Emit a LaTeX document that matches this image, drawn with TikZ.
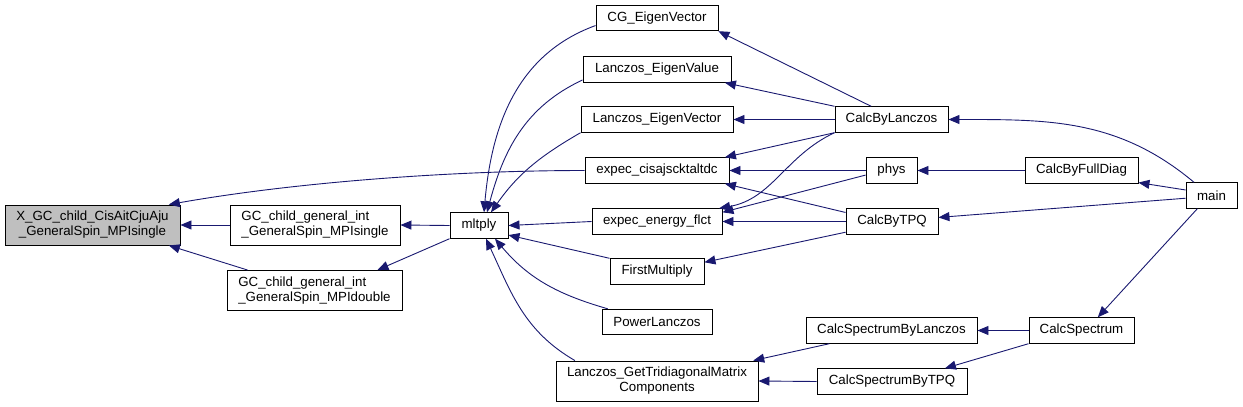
\documentclass[tikz,border=0pt]{standalone}
\usepackage{fontspec}
\setmainfont{Liberation Sans}
\usepackage{tikz}
\usetikzlibrary{arrows.meta}
\definecolor{edgeblue}{HTML}{191970}
\definecolor{rootgray}{HTML}{BFBFBF}
\tikzset{
  >={Triangle[length=11pt,width=9pt]},
  fnbox/.style={draw=black,line width=0.9pt,inner sep=0pt,minimum height=25.5pt,
    font=\fontsize{13.3}{15}\selectfont,align=center},
  fntwo/.style={fnbox,minimum height=40pt},
  fnroot/.style={fntwo,fill=rootgray},
  call/.style={->,draw=edgeblue,line width=0.9pt},
}
\begin{document}
\begin{tikzpicture}[x=1pt,y=1pt]
  \useasboundingbox (0,0) rectangle (1243,-407);
  \node[fnroot,minimum width=175pt] (xgc) at (92.5,-225)
    {X\_GC\_child\_CisAitCjuAju\\\_GeneralSpin\_MPIsingle};
  \node[fntwo,align=left,minimum width=170pt] (gcs) at (315,-225)
    {GC\_child\_general\_int\\\_GeneralSpin\_MPIsingle};
  \node[fntwo,align=left,minimum width=175pt] (gcd) at (314.5,-290.5)
    {GC\_child\_general\_int\\\_GeneralSpin\_MPIdouble};
  \node[fnbox,minimum width=58pt] (mlt) at (479,-225.5) {mltply};
  \node[fnbox,minimum width=122pt] (cgev) at (657,-18) {CG\_EigenVector};
  \node[fnbox,minimum width=148pt] (levl) at (657,-69.5) {Lanczos\_EigenValue};
  \node[fnbox,minimum width=152pt] (levc) at (657,-119.5) {Lanczos\_EigenVector};
  \node[fnbox,minimum width=144pt] (cisaj) at (657,-170.5) {expec\_cisajscktaltdc};
  \node[fnbox,minimum width=130pt] (enfl) at (657,-221.5) {expec\_energy\_flct};
  \node[fnbox,minimum width=94pt] (fmul) at (657,-271.5) {FirstMultiply};
  \node[fnbox,minimum width=110pt] (pwl) at (657,-322) {PowerLanczos};
  \node[fntwo,minimum width=202pt] (trid) at (657,-381)
    {Lanczos\_GetTridiagonalMatrix\\Components};
  \node[fnbox,minimum width=113pt] (cbl) at (891.5,-119.5) {CalcByLanczos};
  \node[fnbox,minimum width=51pt] (phys) at (891.5,-170.5) {phys};
  \node[fnbox,minimum width=92pt] (cbt) at (892,-221.5) {CalcByTPQ};
  \node[fnbox,minimum width=171pt] (cslz) at (891.5,-330.5) {CalcSpectrumByLanczos};
  \node[fnbox,minimum width=150pt] (cstpq) at (892,-381.5) {CalcSpectrumByTPQ};
  \node[fnbox,minimum width=113pt] (cfd) at (1081.5,-170.5) {CalcByFullDiag};
  \node[fnbox,minimum width=105pt] (cspec) at (1081.5,-330.5) {CalcSpectrum};
  \node[fnbox,minimum width=51pt] (main) at (1211.5,-195.5) {main};
  % callers of the root
  \draw[call] (gcs.west) -- (xgc.east);
  \draw[call] (gcd.163) -- (xgc.-15);
  \draw[call] (cisaj.west) to[out=180,in=10,looseness=0.8] (xgc.15);
  % callers of mltply
  \draw[call] (mlt.west) -- (gcs.east);
  \draw[call] (mlt.south west) -- (gcd.18);
  \draw[call] (cgev.187) to[out=200,in=85] ([xshift=5pt]mlt.north);
  \draw[call] (levl.188) to[out=205,in=75] ([xshift=8pt]mlt.north);
  \draw[call] (levc.south west) to[out=210,in=55] ([xshift=12pt]mlt.north);
  \draw[call] (enfl.west) -- (mlt.east);
  \draw[call] (fmul.north west) -- (mlt.-18);
  \draw[call] (pwl.165) to[out=164,in=-50] ([xshift=16pt]mlt.south);
  \draw[call] (trid.166) to[out=150,in=-65] ([xshift=7pt]mlt.south);
  % upper callers
  \draw[call] (cbl.147) -- (cgev.south east);
  \draw[call] (cbl.north west) -- (levl.-11);
  \draw[call] (cbl.west) -- (levc.east);
  \draw[call] (cbl.south west) -- (cisaj.11);
  \draw[call] (cbl.south west) to[out=205,in=10] (enfl.12);
  \draw[call] (phys.west) -- (cisaj.east);
  \draw[call] (phys.190) -- (enfl.8);
  \draw[call] (cbt.169) -- (cisaj.-11);
  \draw[call] (cbt.west) -- (enfl.east);
  \draw[call] (cbt.193) -- (fmul.11);
  \draw[call] (cfd.west) -- (phys.east);
  \draw[call] (main.143) to[out=140,in=0] (cbl.east);
  \draw[call] (main.168) -- (cfd.-12);
  \draw[call] (main.186) -- (cbt.5);
  \draw[call] (main.223) -- (cspec.39);
  % spectrum
  \draw[call] (cslz.192) -- (trid.12);
  \draw[call] (cstpq.west) -- (trid.east);
  \draw[call] (cspec.west) -- (cslz.east);
  \draw[call] (cspec.194) -- (cstpq.14);
\end{tikzpicture}
\end{document}
